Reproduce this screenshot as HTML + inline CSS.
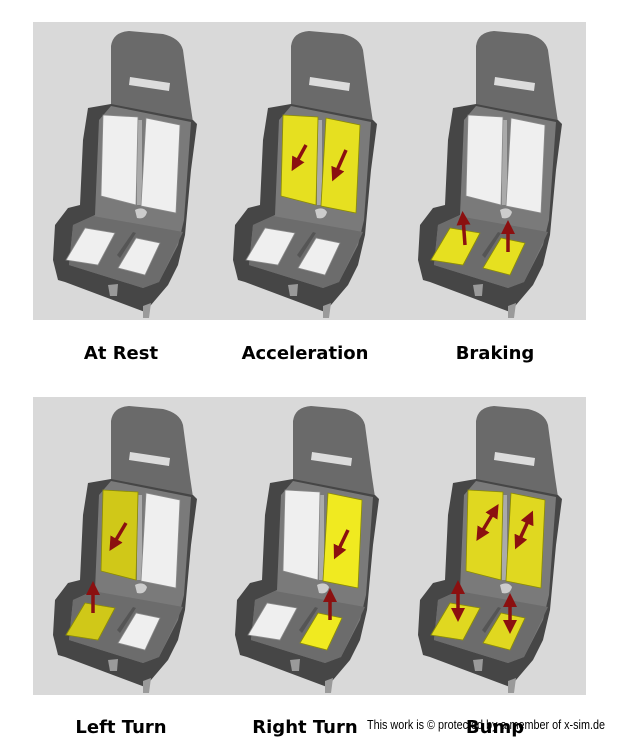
<!DOCTYPE html>
<html><head><meta charset="utf-8"><style>
html,body{margin:0;padding:0;background:#fff;width:620px;height:741px;overflow:hidden}
svg{display:block}
.lbl{font-family:"DejaVu Sans","Liberation Sans",sans-serif;font-weight:bold;font-size:18px;fill:#000;text-anchor:middle}
.wm{font-family:"Liberation Sans",sans-serif;font-size:12.5px;fill:#000}
</style></head><body>
<svg width="620" height="741" viewBox="0 0 620 741" xmlns="http://www.w3.org/2000/svg">
<defs>
 <path id="pbl" d="M70,95 L105,97 L103,185 L68,176 Z"/>
 <path id="pbr" d="M113,98 L147,105 L143,193 L108,186 Z"/>
 <path id="psl" d="M33,240 L52,208 L82,213 L65,245 Z"/>
 <path id="psr" d="M85,248 L103,218 L127,223 L112,255 Z"/>
 <g id="seat">
  <path d="M78,88 L78,26 Q80,12 96,11 L130,14 Q147,18 150,30 L157,82 L160,102 Z" fill="#6a6a6a"/>
  <path d="M97,57 L137,63 L136,71 L96,65 Z" fill="#dcdcdc"/>
  <path d="M55,88 L78,84 L160,100 L164,104 L158,150 L152,215 L145,245 L135,265 L118,285 L112,292 L32,262 L25,260 L20,240 L22,205 L35,188 L47,185 L50,120 Z" fill="#464646"/>
  <path d="M78,86 L158,102 L151,200 L145,225 L126,262 L110,268 L36,245 L40,205 L62,195 L66,100 Z" fill="#7a7a7a"/>
  <path d="M60,196 L150,212 L126,262 L110,268 L36,245 L40,205 Z" fill="#6c6c6c"/>
  <rect x="104" y="100" width="5" height="85" fill="#aaa"/>
  <path d="M102,190 Q110,186 114,192 Q112,200 104,198 Z" fill="#ccc"/>
  <path d="M75,265 L85,264 L84,276 L77,276 Z" fill="#9a9a9a"/>
  <path d="M110,286 L118,283 L116,298 L110,298 Z" fill="#9a9a9a"/>
  <path d="M84,235 L100,212 L103,213 L87,238 Z" fill="#555"/>
 </g>
 <g id="plates" fill="#efefef" stroke="#8a8a8a" stroke-width="0.8">
  <use href="#pbl"/><use href="#pbr"/><use href="#psl"/><use href="#psr"/>
 </g>
 <marker id="ah" markerWidth="4" markerHeight="4" refX="2" refY="2" orient="auto-start-reverse" markerUnits="strokeWidth"><path d="M0,0 L4,2 L0,4 Z" fill="#8b1010"/></marker>
</defs>
<rect x="33" y="22" width="553" height="298" fill="#d9d9d9"/>
<rect x="33" y="397" width="553" height="298" fill="#d9d9d9"/>

<g transform="translate(33,20)"><use href="#seat"/><use href="#plates"/></g>
<g transform="translate(213,20)"><use href="#seat"/><use href="#plates"/>
 <use href="#pbl" fill="#e6e020" stroke="#8a8a00" stroke-width="0.8"/><use href="#pbr" fill="#e6e020" stroke="#8a8a00" stroke-width="0.8"/>
 <g stroke="#8b1010" stroke-width="3.5" fill="none"><line x1="93" y1="125" x2="82" y2="145" marker-end="url(#ah)"/><line x1="133" y1="130" x2="122" y2="155" marker-end="url(#ah)"/></g>
</g>
<g transform="translate(398,20)"><use href="#seat"/><use href="#plates"/>
 <use href="#psl" fill="#e6e020" stroke="#8a8a00" stroke-width="0.8"/><use href="#psr" fill="#e6e020" stroke="#8a8a00" stroke-width="0.8"/>
 <g stroke="#8b1010" stroke-width="3.5" fill="none"><line x1="67" y1="225" x2="65" y2="198" marker-end="url(#ah)"/><line x1="110" y1="232" x2="110" y2="207" marker-end="url(#ah)"/></g>
</g>
<g transform="translate(33,395)"><use href="#seat"/><use href="#plates"/>
 <use href="#pbl" fill="#d0c818" stroke="#8a8a00" stroke-width="0.8"/><use href="#psl" fill="#d0c818" stroke="#8a8a00" stroke-width="0.8"/>
 <g stroke="#8b1010" stroke-width="3.5" fill="none"><line x1="93" y1="128" x2="80" y2="150" marker-end="url(#ah)"/><line x1="60" y1="218" x2="60" y2="193" marker-end="url(#ah)"/></g>
</g>
<g transform="translate(215,395)"><use href="#seat"/><use href="#plates"/>
 <use href="#pbr" fill="#f0ea20" stroke="#8a8a00" stroke-width="0.8"/><use href="#psr" fill="#f0ea20" stroke="#8a8a00" stroke-width="0.8"/>
 <g stroke="#8b1010" stroke-width="3.5" fill="none"><line x1="133" y1="135" x2="122" y2="158" marker-end="url(#ah)"/><line x1="115" y1="225" x2="115" y2="200" marker-end="url(#ah)"/></g>
</g>
<g transform="translate(398,395)"><use href="#seat"/><use href="#plates"/>
 <g fill="#e0d820" stroke="#8a8a00" stroke-width="0.8"><use href="#pbl"/><use href="#pbr"/><use href="#psl"/><use href="#psr"/></g>
 <g stroke="#8b1010" stroke-width="3.5" fill="none"><line x1="97" y1="115" x2="82" y2="140" marker-start="url(#ah)" marker-end="url(#ah)"/><line x1="132" y1="122" x2="120" y2="148" marker-start="url(#ah)" marker-end="url(#ah)"/><line x1="60" y1="192" x2="60" y2="220" marker-start="url(#ah)" marker-end="url(#ah)"/><line x1="112" y1="205" x2="112" y2="232" marker-start="url(#ah)" marker-end="url(#ah)"/></g>
</g>

<text class="lbl" x="121" y="359">At Rest</text>
<text class="lbl" x="305" y="359">Acceleration</text>
<text class="lbl" x="495" y="359">Braking</text>
<text class="lbl" x="121" y="733">Left Turn</text>
<text class="lbl" x="305" y="733">Right Turn</text>
<text class="wm" x="367" y="729" textLength="238" lengthAdjust="spacingAndGlyphs">This work is © protected by a member of x-sim.de</text>
<text class="lbl" x="495" y="733">Bump</text>
</svg>
</body></html>
